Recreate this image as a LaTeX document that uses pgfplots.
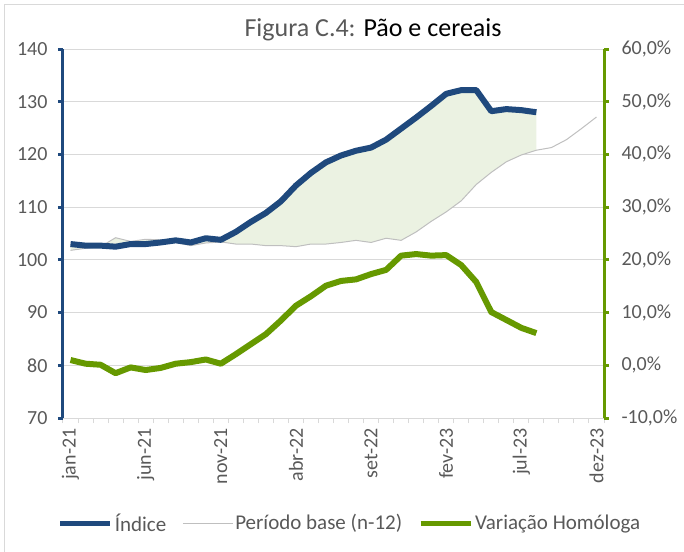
\documentclass[border=0pt]{standalone}
\usepackage{fontspec}
\setmainfont{Carlito}
\usepackage{pgfplots}
\pgfplotsset{compat=1.18}
\usepackage{pgfplotstable}
\definecolor{idxblue}{RGB}{31,73,125}
\definecolor{vargreen}{RGB}{102,153,0}
\definecolor{basegray}{RGB}{191,191,191}
\definecolor{fillgreen}{RGB}{235,242,226}
\definecolor{txtgray}{RGB}{89,89,89}
\definecolor{gridgray}{RGB}{217,217,217}

\pgfplotstableread{
x idx
0 103.0
1 102.7
2 102.7
3 102.5
4 103.0
5 103.0
6 103.3
7 103.7
8 103.3
9 104.1
10 103.8
11 105.3
12 107.2
13 108.9
14 111.1
15 114.1
16 116.5
17 118.5
18 119.8
19 120.7
20 121.3
21 122.8
22 124.9
23 127.0
24 129.2
25 131.5
26 132.2
27 132.2
28 128.2
29 128.6
30 128.4
31 128.0
}\idxdata

\pgfplotstableread{
x base
0 101.8
1 102.2
2 102.5
3 104.2
4 103.5
5 103.9
6 103.8
7 103.3
8 102.7
9 103.2
10 103.4
11 103.0
12 103.0
13 102.7
14 102.7
15 102.5
16 103.0
17 103.0
18 103.3
19 103.7
20 103.3
21 104.1
22 103.7
23 105.3
24 107.3
25 109.1
26 111.2
27 114.3
28 116.6
29 118.6
30 119.9
31 120.8
32 121.3
33 122.8
34 124.9
35 127.1
}\basedata

\pgfplotstableread{
x var
0 1.0
1 0.3
2 0.1
3 -1.5
4 -0.4
5 -0.9
6 -0.5
7 0.3
8 0.6
9 1.1
10 0.3
11 2.1
12 4.0
13 5.9
14 8.5
15 11.3
16 13.1
17 15.1
18 16.0
19 16.3
20 17.3
21 18.1
22 20.8
23 21.1
24 20.8
25 20.9
26 19.0
27 15.8
28 10.1
29 8.6
30 7.1
31 6.1
}\vardata

\begin{document}
\begin{tikzpicture}
\path[use as bounding box] (-63bp,-134bp) rectangle (621bp,418bp);
\draw[gridgray, line width=1bp] (-58bp,-134bp) -- (-58bp,413bp) -- (621bp,413bp);
\begin{axis}[
  scale only axis, width=541bp, height=369bp,
  xmin=-0.5, xmax=35.5, ymin=70, ymax=140,
  axis x line*=bottom, axis y line*=left,
  x axis line style={-, draw=gridgray, line width=1bp},
  y axis line style={-, draw=idxblue, line width=3bp},
  tick align=outside, major tick length=5bp,
  xtick={-0.5,0.5,...,35.6}, xticklabels={},
  xtick style={draw=gridgray, line width=1bp},
  extra x ticks={0,5,...,35},
  extra x tick labels={jan-21,jun-21,nov-21,abr-22,set-22,fev-23,jul-23,dez-23},
  extra x tick style={major tick length=0pt},
  xticklabel style={yshift=-7bp, rotate=90, anchor=east, font=\fontsize{20bp}{24bp}\selectfont, text=txtgray},
  ytick={70,80,...,140},
  ytick style={draw=idxblue, line width=3bp},
  yticklabel style={xshift=-7bp, font=\fontsize{20bp}{24bp}\selectfont, text=txtgray},
  ymajorgrids, grid style={draw=gridgray, line width=1bp},
  /pgf/number format/assume math mode=true,
  line join=round,
]
\addplot[fill=fillgreen, draw=none] coordinates {
(0,103.0) (1,102.7) (2,102.7) (3,102.5) (4,103.0) (5,103.0) (6,103.3) (7,103.7)
(8,103.3) (9,104.1) (10,103.8) (11,105.3) (12,107.2) (13,108.9) (14,111.1) (15,114.1)
(16,116.5) (17,118.5) (18,119.8) (19,120.7) (20,121.3) (21,122.8) (22,124.9) (23,127.0)
(24,129.2) (25,131.5) (26,132.2) (27,132.2) (28,128.2) (29,128.6) (30,128.4) (31,128.0)
(31,120.8) (30,119.9) (29,118.6) (28,116.6) (27,114.3) (26,111.2) (25,109.1) (24,107.3)
(23,105.3) (22,103.7) (21,104.1) (20,103.3) (19,103.7) (18,103.3) (17,103.0) (16,103.0)
(15,102.5) (14,102.7) (13,102.7) (12,103.0) (11,103.0) (10,103.4) (9,103.2) (8,102.7)
(7,103.3) (6,103.8) (5,103.9) (4,103.5) (3,104.2) (2,102.5) (1,102.2) (0,101.8)
};
\addplot[basegray, line width=1bp] table[x=x,y=base]{\basedata};
\addplot[idxblue, line width=6bp] table[x=x,y=idx]{\idxdata};
\end{axis}
\begin{axis}[
  scale only axis, width=541bp, height=369bp,
  xmin=-0.5, xmax=35.5, ymin=-10, ymax=60,
  axis x line=none, axis y line*=right,
  y axis line style={-, draw=vargreen, line width=3bp},
  tick align=outside, major tick length=5bp,
  ytick={-10,0,...,60},
  ytick style={draw=vargreen, line width=3bp},
  yticklabel={\pgfmathprintnumber[fixed,fixed zerofill,precision=1,use comma]{\tick}\%},
  yticklabel style={xshift=9bp, font=\fontsize{20bp}{24bp}\selectfont, text=txtgray},
  /pgf/number format/assume math mode=true,
  legend style={at={(axis description cs:0.5305,-0.2846)}, anchor=center, draw=none, fill=none,
    font=\fontsize{21bp}{25bp}\selectfont, text=txtgray,
    /tikz/every even column/.append style={column sep=14bp}},
  legend columns=3,
  legend image code/.code={\draw[#1] (0bp,0bp) -- (50bp,0bp);},
  line join=round,
]
\addlegendimage{idxblue, line width=5bp}
\addlegendentry{Índice}
\addlegendimage{basegray, line width=1bp}
\addlegendentry{Período base (n-12)}
\addplot[vargreen, line width=6bp, forget plot] table[x=x,y=var]{\vardata};
\addlegendimage{vargreen, line width=5bp}
\addlegendentry{Variação Homóloga}
\end{axis}
\node[font=\fontsize{26bp}{30bp}\selectfont, text=black] at (310bp,388bp) {\textcolor{txtgray}{Figura C.4:} Pão e cereais};
\end{tikzpicture}
\end{document}
